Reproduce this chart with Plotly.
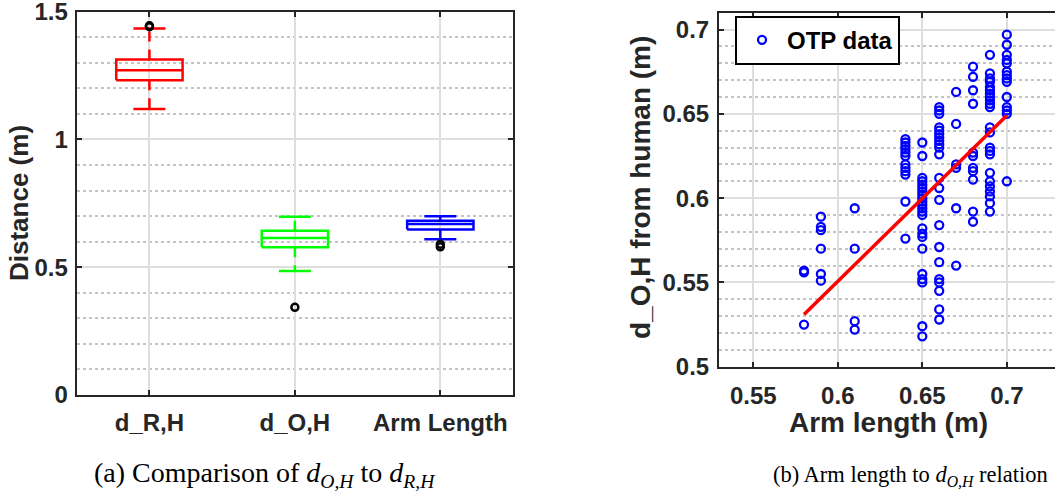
import plotly.graph_objects as go

# ---------------- box plot summary (distances in metres) ----------------
box_labels = ["d_R,H", "d_O,H", "Arm Length"]
box_colors = ["#ff0000", "#00ff00", "#0000ff"]
q1 = [1.232, 0.578, 0.648]
medians = [1.271, 0.614, 0.669]
q3 = [1.313, 0.643, 0.682]
whisker_low = [1.119, 0.485, 0.610]
whisker_high = [1.434, 0.698, 0.700]
outliers = [[1.441, 1.445], [0.343], [0.580, 0.590]]

# ---------------- OTP data: arm length vs d_O,H ----------------
arm_len_groups = [0.58, 0.59, 0.61, 0.64, 0.65, 0.66, 0.67, 0.68, 0.69, 0.70]
d_oh_groups = [
    [0.557, 0.556, 0.525],
    [0.589, 0.583, 0.581, 0.570, 0.555, 0.551],
    [0.594, 0.570, 0.527, 0.522],
    [0.635, 0.633, 0.631, 0.629, 0.627, 0.625, 0.620, 0.618, 0.616, 0.614,
     0.598, 0.576],
    [0.633, 0.625, 0.612, 0.610, 0.608, 0.606, 0.604, 0.602, 0.600, 0.598,
     0.596, 0.594, 0.592, 0.590, 0.582, 0.579, 0.577, 0.570, 0.555, 0.552,
     0.550, 0.524, 0.518],
    [0.654, 0.652, 0.650, 0.642, 0.640, 0.638, 0.636, 0.634, 0.632, 0.630,
     0.626, 0.612, 0.606, 0.599, 0.584, 0.571, 0.562, 0.552, 0.550, 0.545,
     0.534, 0.528],
    [0.663, 0.644, 0.620, 0.618, 0.594, 0.560],
    [0.678, 0.672, 0.664, 0.656, 0.627, 0.625, 0.618, 0.616, 0.611, 0.592,
     0.586],
    [0.685, 0.674, 0.671, 0.669, 0.666, 0.664, 0.662, 0.660, 0.658, 0.656,
     0.654, 0.642, 0.639, 0.630, 0.628, 0.626, 0.615, 0.610, 0.607, 0.604,
     0.601, 0.597, 0.592],
    [0.697, 0.691, 0.685, 0.682, 0.680, 0.675, 0.673, 0.671, 0.669, 0.660,
     0.654, 0.652, 0.650, 0.610],
]
# linear fit of d_O,H against arm length
fit_x = [0.58, 0.70]
fit_y = [0.531, 0.649]

left_yticks = [0, 0.5, 1, 1.5]
right_xticks = [0.55, 0.6, 0.65, 0.7]
right_yticks = [0.5, 0.55, 0.6, 0.65, 0.7]

AX = "#262626"
GRID = "#dedede"
MINOR = "#c4c4c4"
SANS = "Liberation Sans, Arial, sans-serif"
SERIF = "Liberation Serif, serif"

fig = go.Figure()

# ---- boxes drawn from the summary statistics ----
half_w = 0.228
cap_w = 0.11
for i, lab in enumerate(box_labels):
    c = i + 1
    col = box_colors[i]
    line = dict(color=col, width=2.5)
    # box
    fig.add_trace(go.Scatter(
        x=[c - half_w, c + half_w, c + half_w, c - half_w, c - half_w],
        y=[q1[i], q1[i], q3[i], q3[i], q1[i]],
        mode="lines", line=line, showlegend=False, hoverinfo="skip",
        xaxis="x", yaxis="y"))
    # median
    fig.add_trace(go.Scatter(
        x=[c - half_w, c + half_w], y=[medians[i], medians[i]],
        mode="lines", line=line, showlegend=False, xaxis="x", yaxis="y"))
    # dashed whiskers
    for a, b in ((q3[i], whisker_high[i]), (q1[i], whisker_low[i])):
        fig.add_trace(go.Scatter(
            x=[c, c], y=[a, b], mode="lines",
            line=dict(color=col, width=2.5, dash="10px,8px"),
            showlegend=False, xaxis="x", yaxis="y"))
    # whisker caps
    for w in (whisker_high[i], whisker_low[i]):
        fig.add_trace(go.Scatter(
            x=[c - cap_w, c + cap_w], y=[w, w], mode="lines", line=line,
            showlegend=False, xaxis="x", yaxis="y"))
    # outliers
    fig.add_trace(go.Scatter(
        x=[c] * len(outliers[i]), y=outliers[i], mode="markers",
        marker=dict(symbol="circle-open", size=7, color="black",
                    line=dict(width=2.5, color="black")),
        showlegend=False, xaxis="x", yaxis="y"))

# ---- scatter of OTP data ----
arm_length = []
d_oh = []
for a, vals in zip(arm_len_groups, d_oh_groups):
    arm_length += [a] * len(vals)
    d_oh += vals

fig.add_trace(go.Scatter(
    x=arm_length, y=d_oh, mode="markers", name="OTP data",
    marker=dict(symbol="circle-open", size=8, color="#0000ff",
                line=dict(width=2.3, color="#0000ff")),
    xaxis="x2", yaxis="y2"))
fig.add_trace(go.Scatter(
    x=fit_x, y=fit_y, mode="lines", line=dict(color="#ff0000", width=3.5),
    showlegend=False, xaxis="x2", yaxis="y2"))


def axis_style(**kw):
    base = dict(
        showline=True, linecolor=AX, linewidth=2, mirror="ticks",
        ticks="inside", ticklen=5, tickwidth=2, tickcolor=AX,
        showgrid=True, gridcolor=GRID, gridwidth=2, zeroline=False,
        automargin=False, ticklabeloverflow="allow",
        tickfont=dict(family=SANS, size=24, color=AX, weight="bold"),
    )
    base.update(kw)
    return base


fig.update_layout(
    width=1055, height=497,
    margin=dict(l=0, r=0, t=0, b=0),
    paper_bgcolor="white", plot_bgcolor="white",
    xaxis=axis_style(
        domain=[0.0727, 0.4863], range=[0.5, 3.5],
        tickmode="array", tickvals=[1, 2, 3], ticktext=box_labels,
        ticklabelstandoff=5),
    yaxis=axis_style(
        domain=[0.2052, 0.9765], range=[0, 1.5],
        tickmode="array", tickvals=left_yticks,
        ticktext=[f"{v:g}" for v in left_yticks],
        ticklabelstandoff=2,
        minor=dict(dtick=0.1, showgrid=True, griddash="dot",
                   gridcolor=MINOR, gridwidth=2, ticks="")),
    xaxis2=axis_style(
        domain=[0.6815, 1.0], range=[0.5297, 0.7285], anchor="y2",
        tickmode="array", tickvals=right_xticks,
        ticktext=[f"{v:g}" for v in right_xticks],
        ticklabelstandoff=7),
    yaxis2=axis_style(
        domain=[0.2622, 0.9744], range=[0.5, 0.71], anchor="x2",
        mirror=False,
        tickmode="array", tickvals=right_yticks,
        ticktext=[f"{v:g}" for v in right_yticks],
        ticklabelstandoff=3,
        minor=dict(dtick=0.01, showgrid=True, griddash="dot",
                   gridcolor=MINOR, gridwidth=2, ticks="")),
    legend=dict(
        x=0.6967, y=0.9684, xanchor="left", yanchor="top",
        bgcolor="white", bordercolor="black", borderwidth=2,
        font=dict(family=SANS, size=24, color="black", weight="bold"),
        itemwidth=40, tracegroupgap=0),
    showlegend=True,
)

left_title = dict(family=SANS, size=26, color=AX, weight="bold")
right_title = dict(family=SANS, size=28, color=AX, weight="bold")
annotations = [
    dict(text="Distance (m)", x=19, y=203, textangle=-90, font=left_title),
    dict(text="d_O,H from human (m)", x=640, y=188, textangle=-90,
         font=right_title),
    dict(text="Arm length (m)", x=888, y=422, font=right_title),
    dict(text="(a) Comparison of <i>d</i><sub><i>O,H</i></sub> to "
              "<i>d</i><sub><i>R,H</i></sub>",
         x=265, y=474, font=dict(family=SERIF, size=28, color="black")),
    dict(text="(b) Arm length to <i>d</i><sub><i>O,H</i></sub> relation",
         x=910, y=476, font=dict(family=SERIF, size=22.5, color="black")),
]
for a in annotations:
    fig.add_annotation(
        text=a["text"], x=a["x"] / 1055, y=1 - a["y"] / 497,
        xref="paper", yref="paper", xanchor="center", yanchor="middle",
        showarrow=False, textangle=a.get("textangle", 0), font=a["font"])

fig.write_html("out.html")
